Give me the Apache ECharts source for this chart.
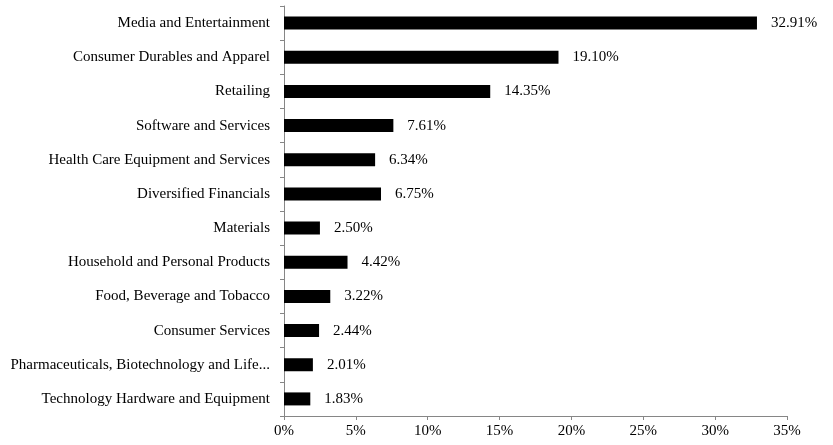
<!DOCTYPE html>
<html><head><meta charset="utf-8">
<script src="https://cdn.jsdelivr.net/npm/echarts@6/dist/echarts.min.js"></script>
<style>html,body{margin:0;padding:0;background:#fff}#c{width:833px;height:445px}</style>
</head><body><div id="c"></div>
<script>
const categories = [
  "Media and Entertainment",
  "Consumer Durables and Apparel",
  "Retailing",
  "Software and Services",
  "Health Care Equipment and Services",
  "Diversified Financials",
  "Materials",
  "Household and Personal Products",
  "Food, Beverage and Tobacco",
  "Consumer Services",
  "Pharmaceuticals, Biotechnology and Life...",
  "Technology Hardware and Equipment"
];
const values = [32.91, 19.10, 14.35, 7.61, 6.34, 6.75, 2.50, 4.42, 3.22, 2.44, 2.01, 1.83];
const xTicks = [0, 5, 10, 15, 20, 25, 30, 35];

const font = '"Liberation Serif", "DejaVu Serif", serif';
const chart = echarts.init(document.getElementById('c'));
chart.setOption({
  animation: false,
  grid: {left: 284, right: 46, top: 6, bottom: 29, containLabel: false},
  xAxis: {
    type: 'value', min: xTicks[0], max: xTicks[xTicks.length - 1], interval: 5,
    splitLine: {show: false},
    axisLine: {show: true, lineStyle: {color: '#868686', width: 1}},
    axisTick: {show: true, length: 4, lineStyle: {color: '#868686'}},
    axisLabel: {formatter: v => v + '%', color: '#000', fontFamily: font, fontSize: 15, margin: 8}
  },
  yAxis: {
    type: 'category', inverse: true, data: categories,
    axisLine: {show: true, lineStyle: {color: '#868686', width: 1}},
    axisTick: {show: true, length: 4, lineStyle: {color: '#868686'}},
    axisLabel: {color: '#000', fontFamily: font, fontSize: 15, margin: 14}
  },
  series: [{
    type: 'bar', data: values, barWidth: 13,
    itemStyle: {color: '#000'},
    label: {show: true, position: 'right', distance: 14, formatter: p => p.value.toFixed(2) + '%',
      color: '#000', fontFamily: font, fontSize: 15}
  }]
});
</script></body></html>
